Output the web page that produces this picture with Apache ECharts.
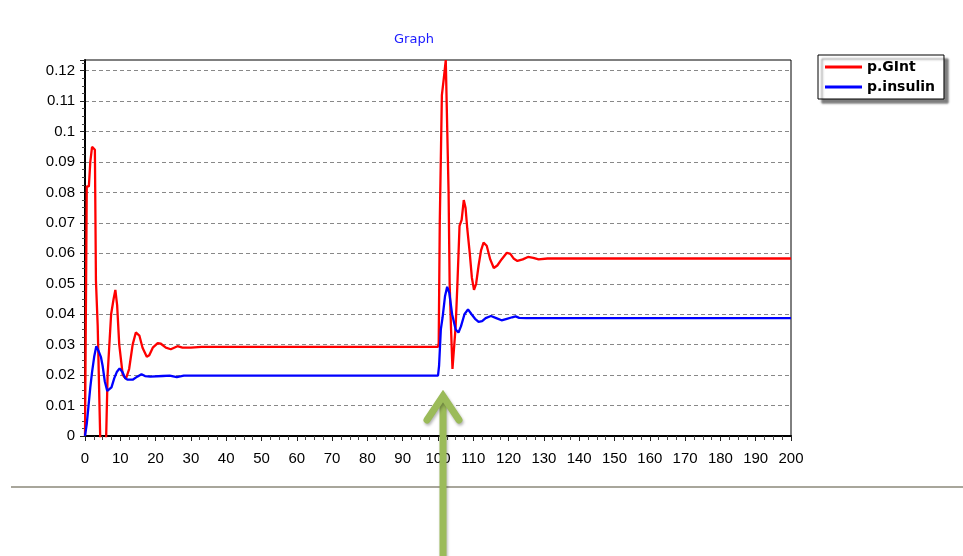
<!DOCTYPE html>
<html>
<head>
<meta charset="utf-8">
<script src="https://cdn.jsdelivr.net/npm/echarts@6/dist/echarts.min.js"></script>
<style>html,body{margin:0;padding:0;background:#fff;}#c{width:963px;height:556px;}</style>
</head>
<body>
<div id="c"></div>
<script>
// ---- data ----
const seriesNames = ['p.GInt', 'p.insulin'];
const tGInt = [0, 0.5, 1.1, 1.5, 2.0, 2.8, 3.1, 3.6, 4.3, 4.8, 5.5, 6.0, 6.4, 7.4, 8.1, 8.6, 9.1, 9.7, 10.7, 11.6, 12.5, 13.5, 14.4, 15.4, 16.3, 17.5, 18.2, 19.2, 20.6, 21.5, 22.9, 24.3, 26.2, 27.6, 30, 33,
  100, 100.2, 100.5, 100.9, 101.1, 101.7, 102.2, 102.7, 103.0, 103.3, 103.7, 104.1, 104.6, 105.0, 105.5, 106.1, 106.7, 107.3, 107.8, 108.3, 109.0, 109.6, 110.2, 110.8, 111.5, 112.2, 112.9, 113.8, 114.8, 115.8, 116.8, 118.0, 119.5, 120.5, 121.5, 122.5, 124.0, 125.5, 127.0, 128.5, 131, 200];
const vGInt = [0, 0.082, 0.082, 0.09, 0.095, 0.094, 0.051, 0.036, 0.0, -0.01, -0.01, 0.0, 0.02, 0.04, 0.045, 0.048, 0.043, 0.03, 0.02, 0.0188, 0.022, 0.03, 0.034, 0.033, 0.029, 0.026, 0.0265, 0.029, 0.0305, 0.0303, 0.029, 0.0285, 0.0295, 0.029, 0.029, 0.0293,
  0.0293, 0.0305, 0.07, 0.07, 0.112, 0.118, 0.1235, 0.1235, 0.08, 0.05, 0.035, 0.022, 0.022, 0.036, 0.05, 0.069, 0.071, 0.0775, 0.075, 0.068, 0.06, 0.052, 0.048, 0.05, 0.056, 0.061, 0.0635, 0.0625, 0.058, 0.0552, 0.056, 0.058, 0.0602, 0.0598, 0.0582, 0.0575, 0.058, 0.0588, 0.0585, 0.058, 0.0583, 0.0583];
const tIns = [0, 0.5, 1.0, 1.5, 2.0, 2.6, 3.2, 3.8, 4.5, 5.0, 5.6, 6.3, 6.8, 7.5, 8.3, 9.0, 9.8, 10.6, 11.4, 12.0, 13.5, 14.8, 16.0, 17.0, 18.5, 22, 24, 26, 28,
  100, 100.3, 100.8, 101.3, 102.0, 102.6, 103.2, 104.0, 105.0, 105.8, 106.5, 107.5, 108.5, 109.5, 110.5, 111.5, 112.5, 113.5, 115.0, 116.5, 118.0, 119.5, 121.0, 122.0, 123.0, 125, 200];
const vIns = [0, 0.004, 0.01, 0.016, 0.021, 0.026, 0.0295, 0.028, 0.026, 0.023, 0.018, 0.0148, 0.0145, 0.016, 0.019, 0.021, 0.0222, 0.021, 0.019, 0.0185, 0.0185, 0.0195, 0.0203, 0.0197, 0.0195, 0.0197, 0.0198, 0.0193, 0.0198,
  0.0198, 0.023, 0.035, 0.039, 0.046, 0.049, 0.047, 0.04, 0.035, 0.034, 0.036, 0.040, 0.0416, 0.040, 0.0385, 0.0375, 0.0377, 0.0387, 0.0394, 0.0387, 0.038, 0.0385, 0.039, 0.0393, 0.0388, 0.0387, 0.0387];
const xMin = 0, xMax = 200, xStep = 10;
const yMin = 0, yMax = 0.1235, yStep = 0.01;
const titleText = 'Graph';

const zip = (t, v) => t.map((x, i) => [x, v[i]]);

const chart = echarts.init(document.getElementById('c'), null, {renderer: 'canvas'});
const labelFont = {fontFamily: '"Liberation Sans", Arial, sans-serif', fontSize: 15, color: '#000'};
chart.setOption({
  animation: false,
  backgroundColor: '#fff',
  title: {
    text: titleText, left: 394, top: 33, padding: 0,
    textStyle: {fontFamily: '"DejaVu Sans", Verdana, sans-serif', fontSize: 13, fontWeight: 'normal', color: '#1a1aff'}
  },
  legend: {
    orient: 'vertical', left: 818, top: 55,
    padding: [4, 9, 4, 7], itemGap: 4,
    itemWidth: 37, itemHeight: 3, icon: 'rect',
    backgroundColor: '#fff', borderColor: '#000', borderWidth: 1,
    shadowColor: 'rgba(0,0,0,0.5)', shadowBlur: 2, shadowOffsetX: 4, shadowOffsetY: 4,
    textStyle: {fontFamily: '"DejaVu Sans", Verdana, sans-serif', fontSize: 14, fontWeight: 'bold', color: '#000', lineHeight: 16},
    data: seriesNames
  },
  grid: {left: 85, right: 172, top: 60, bottom: 120, show: true, borderColor: '#000', borderWidth: 1, backgroundColor: 'transparent'},
  xAxis: {
    type: 'value', min: xMin, max: xMax, interval: xStep,
    axisLine: {show: true, onZero: false, lineStyle: {color: '#000', width: 2}},
    axisTick: {show: true, length: 5, lineStyle: {color: '#222'}},
    minorTick: {show: true, splitNumber: 4, length: 4, lineStyle: {color: '#444'}},
    splitLine: {show: false},
    axisLabel: Object.assign({margin: 15}, labelFont)
  },
  yAxis: {
    type: 'value', min: yMin, max: yMax, interval: yStep,
    axisLine: {show: true, onZero: false, lineStyle: {color: '#000', width: 2}},
    axisTick: {show: true, length: 5, lineStyle: {color: '#222'}},
    minorTick: {show: true, splitNumber: 4, length: 3, lineStyle: {color: '#444'}},
    splitLine: {show: true, showMinLine: false, showMaxLine: false, lineStyle: {color: '#888', width: 1, type: [4, 3]}},
    axisLabel: Object.assign({margin: 10, showMaxLabel: false,
      formatter: v => String(+v.toFixed(4))}, labelFont)
  },
  series: [
    {name: seriesNames[0], type: 'line', data: zip(tGInt, vGInt), showSymbol: false, symbol: 'none',
      lineStyle: {color: '#ff0000', width: 2.3}, itemStyle: {color: '#ff0000'}, clip: true, z: 3},
    {name: seriesNames[1], type: 'line', data: zip(tIns, vIns), showSymbol: false, symbol: 'none',
      lineStyle: {color: '#0000ff', width: 2.3}, itemStyle: {color: '#0000ff'}, clip: true, z: 4}
  ],
  graphic: [
    {type: 'line', shape: {x1: 11, y1: 487, x2: 963, y2: 487}, style: {stroke: '#a8a69b', lineWidth: 2}, z: 1},
    {type: 'line', shape: {x1: 443, y1: 560, x2: 443, y2: 398},
      style: {stroke: '#9bbb59', lineWidth: 7, shadowColor: 'rgba(0,0,0,0.3)', shadowBlur: 3, shadowOffsetX: 1, shadowOffsetY: 2}, z: 100},
    {type: 'polyline', shape: {points: [[427, 420], [443, 396], [459, 420]]},
      style: {stroke: '#9bbb59', lineWidth: 7, lineJoin: 'miter', lineCap: 'round', fill: null, shadowColor: 'rgba(0,0,0,0.3)', shadowBlur: 3, shadowOffsetX: 1, shadowOffsetY: 2}, z: 100}
  ]
});
</script>
</body>
</html>
